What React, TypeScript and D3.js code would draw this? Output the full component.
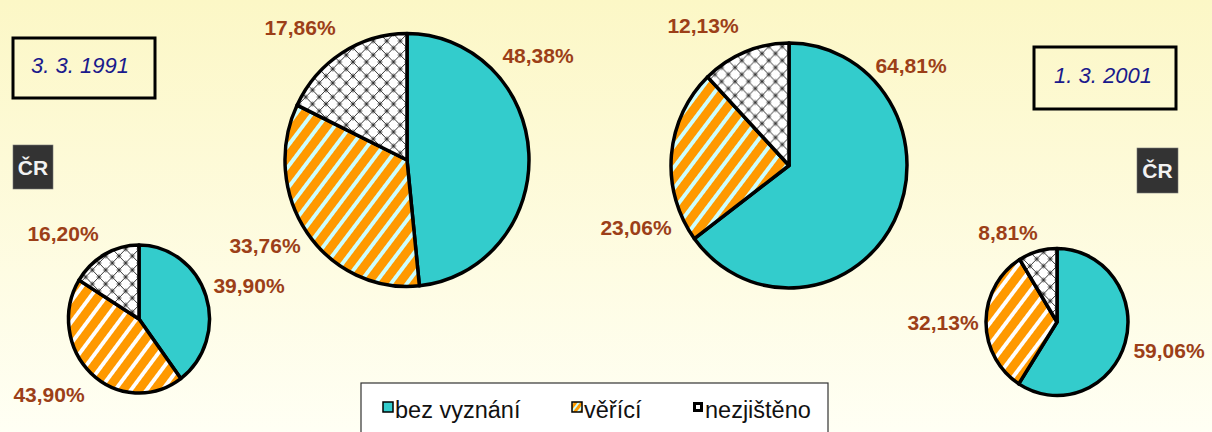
import React from "react";
import * as d3 from "d3";

// ---- data ----
const categories = ["bez vyznání", "věřící", "nezjištěno"];
const big1991 = [48.38, 33.76, 17.86];
const big2001 = [64.81, 23.06, 12.13];
const cr1991 = [39.9, 43.9, 16.2];
const cr2001 = [59.06, 32.13, 8.81];
const dateLabels = ["3. 3. 1991", "1. 3. 2001"];
const regionLabel = "ČR";

// ---- layout ----
const W = 1212;
const H = 432;

type PieLayout = {
  values: number[];
  cx: number;
  cy: number;
  rx: number;
  ry: number;
  light: string;
  labels: [number, number][]; // offsets from centre per slice
};

const pies: PieLayout[] = [
  {
    values: big1991, cx: 407, cy: 160, rx: 122, ry: 126.5, light: "big",
    labels: [[131, -97], [-142, 93], [-107, -125]],
  },
  {
    values: big2001, cx: 789, cy: 165.5, rx: 118, ry: 122.5, light: "big",
    labels: [[122, -93], [-153, 69], [-86, -133]],
  },
  {
    values: cr1991, cx: 139, cy: 319, rx: 70.5, ry: 74, light: "small",
    labels: [[110, -26], [-90, 83], [-76, -78]],
  },
  {
    values: cr2001, cx: 1057, cy: 322, rx: 71, ry: 73.5, light: "small",
    labels: [[112, 36], [-114, 8], [-49, -82]],
  },
];

const fmt = (v: number) => v.toFixed(2).replace(".", ",") + "%";

function fillFor(i: number, size: string) {
  if (i === 0) return "#33cccc";
  if (i === 1) return size === "big" ? "url(#stripesBig)" : "url(#stripesSmall)";
  return "url(#hatch)";
}

export default function App() {
  const pieGen = d3.pie<number>().sort(null).value((d) => d);
  const labelFont = "Arial, 'Liberation Sans', sans-serif";

  return (
    <svg
      width={W}
      height={H}
      style={{ position: "absolute", left: 0, top: 0 }}
      xmlns="http://www.w3.org/2000/svg"
    >
      <defs>
        <linearGradient id="bg" x1="0" y1="0" x2="0" y2="1">
          <stop offset="0" stopColor="#fcf7c6" />
          <stop offset="1" stopColor="#fffff4" />
        </linearGradient>
        <pattern id="stripesBig" patternUnits="userSpaceOnUse" width="13" height="13" patternTransform="rotate(38)">
          <rect width="13" height="13" fill="#ccffff" />
          <rect width="9" height="13" fill="#ff9900" />
        </pattern>
        <pattern id="stripesSmall" patternUnits="userSpaceOnUse" width="13" height="13" patternTransform="rotate(38)">
          <rect width="13" height="13" fill="#ffffff" />
          <rect width="9" height="13" fill="#ff9900" />
        </pattern>
        <pattern id="hatch" patternUnits="userSpaceOnUse" width="14" height="14">
          <rect width="14" height="14" fill="#ffffff" />
          <path d="M0,0 L14,14 M14,0 L0,14" stroke="#333" strokeWidth="1" />
          <circle cx="7" cy="7" r="2" fill="none" stroke="#444" strokeWidth="0.8" />
          <circle cx="0" cy="0" r="2" fill="none" stroke="#444" strokeWidth="0.8" />
          <circle cx="14" cy="0" r="2" fill="none" stroke="#444" strokeWidth="0.8" />
          <circle cx="0" cy="14" r="2" fill="none" stroke="#444" strokeWidth="0.8" />
          <circle cx="14" cy="14" r="2" fill="none" stroke="#444" strokeWidth="0.8" />
        </pattern>
        <pattern id="legStripes" patternUnits="userSpaceOnUse" width="5" height="5" patternTransform="rotate(38)">
          <rect width="5" height="5" fill="#ccffff" />
          <rect width="3" height="5" fill="#ff9900" />
        </pattern>
      </defs>

      <rect x={0} y={0} width={W} height={H} fill="url(#bg)" />

      {pies.map((p, pi) => {
        const arcs = pieGen(p.values);
        const arcGen = d3.arc<d3.PieArcDatum<number>>().innerRadius(0).outerRadius(p.ry);
        const sx = p.rx / p.ry;
        return (
          <g key={pi}>
            <g transform={`translate(${p.cx},${p.cy}) scale(${sx},1)`}>
              {arcs.map((a, i) => (
                <path
                  key={i}
                  d={arcGen(a) || ""}
                  fill={fillFor(i, p.light)}
                  stroke="#000"
                  strokeWidth={3.5}
                  strokeLinejoin="round"
                  vectorEffect="non-scaling-stroke"
                />
              ))}
            </g>
            {arcs.map((a, i) => (
              <text
                key={"l" + i}
                x={p.cx + p.labels[i][0]}
                y={p.cy + p.labels[i][1]}
                textAnchor="middle"
                fontFamily={labelFont}
                fontWeight="bold"
                fontSize={21}
                fill="#9c3f18"
              >
                {fmt(a.data)}
              </text>
            ))}
          </g>
        );
      })}

      {/* date boxes */}
      <rect x={13} y={38} width={142} height={60} fill="none" stroke="#000" strokeWidth={3} />
      <text x={80} y={73} textAnchor="middle" fontFamily={labelFont} fontStyle="italic" fontSize={22} fill="#1a1a8c">
        {dateLabels[0]}
      </text>
      <rect x={1034} y={47} width={142} height={62} fill="none" stroke="#000" strokeWidth={3} />
      <text x={1103} y={83} textAnchor="middle" fontFamily={labelFont} fontStyle="italic" fontSize={22} fill="#1a1a8c">
        {dateLabels[1]}
      </text>

      {/* region boxes */}
      <rect x={13} y={145} width={40} height={44} fill="#333333" stroke="#777" strokeWidth={0.6} />
      <text x={33} y={175} textAnchor="middle" fontFamily={labelFont} fontWeight="bold" fontSize={21} fill="#f2f2f2">
        {regionLabel}
      </text>
      <rect x={1137} y={148} width={41} height={45} fill="#333333" stroke="#777" strokeWidth={0.6} />
      <text x={1157.5} y={178} textAnchor="middle" fontFamily={labelFont} fontWeight="bold" fontSize={21} fill="#f2f2f2">
        {regionLabel}
      </text>

      {/* legend */}
      <rect x={361} y={383} width={467} height={60} fill="#ffffff" stroke="#333" strokeWidth={1.2} />
      {categories.map((c, i) => {
        const xs = [383, 572, 693];
        const x = xs[i];
        return (
          <g key={c}>
            {i === 0 && <rect x={x} y={402} width={10} height={10} fill="#33cccc" stroke="#000" strokeWidth={1.5} />}
            {i === 1 && <rect x={x} y={402} width={10} height={10} fill="url(#legStripes)" stroke="#000" strokeWidth={1.5} />}
            {i === 2 && (
              <g>
                <rect x={x} y={402} width={10} height={10} fill="#000" />
                <rect x={x + 3} y={405} width={4} height={4} fill="#fff" />
              </g>
            )}
            <text x={x + 12} y={418} fontFamily={labelFont} fontSize={23.5} fill="#111">
              {c}
            </text>
          </g>
        );
      })}
    </svg>
  );
}
